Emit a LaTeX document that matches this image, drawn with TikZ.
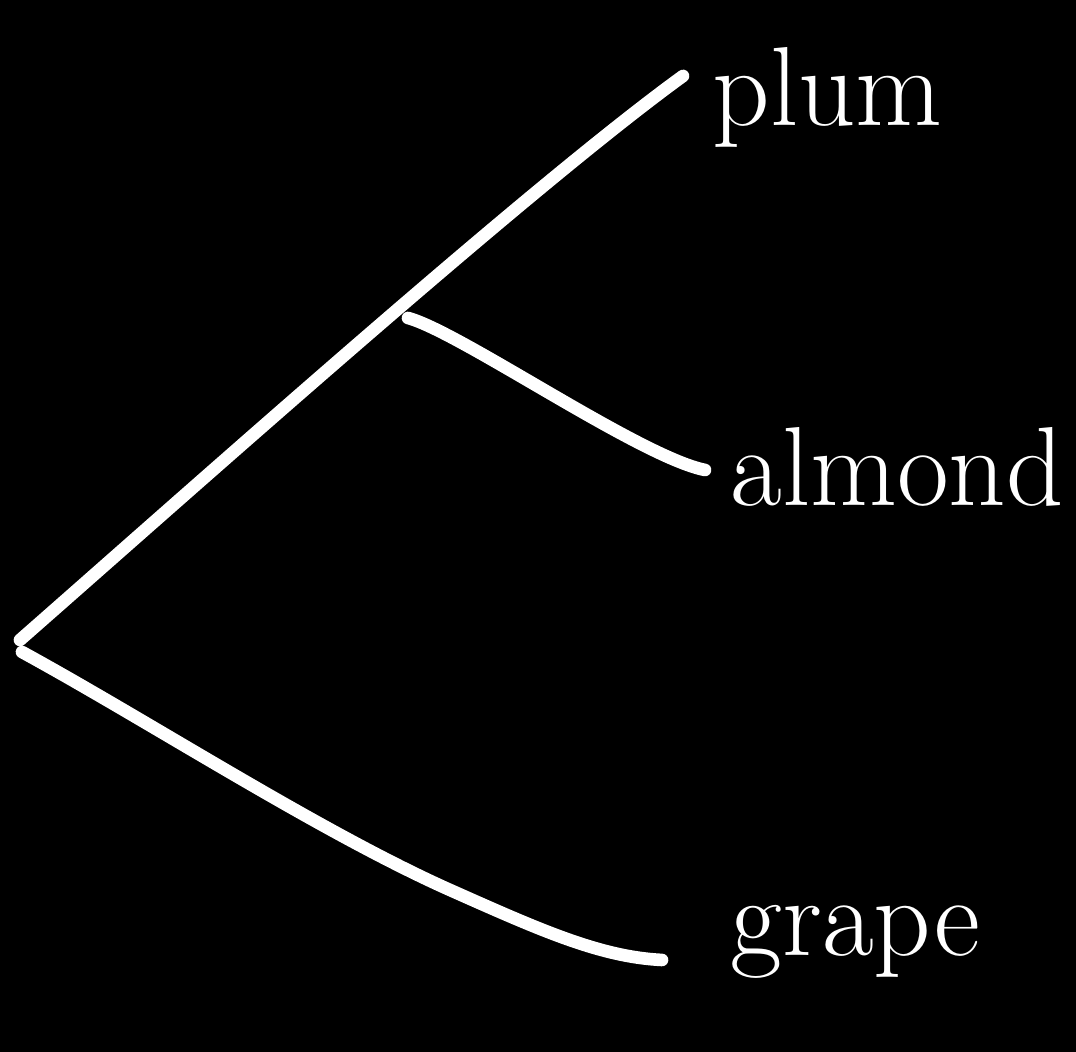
\documentclass[tikz,border=0pt]{standalone}
\usepackage{tikz}
\usetikzlibrary{positioning, calc}
\tikzset{
  branch/.style={draw=white, line width=3.6pt, line cap=round, line join=round},
  leaf/.style={text=white, font=\fontsize{32}{36}\selectfont, inner sep=0pt, anchor=west}
}
\begin{document}
\begin{tikzpicture}

% background and size
\fill[black] (0,0) rectangle (10.76,10.52);
\useasboundingbox (0,0) rectangle (10.76,10.52);

% branch points
\coordinate (root) at (0.20,4.12);
\coordinate (groot) at (0.22,4.00);
\coordinate (split) at (4.08,7.34);
\coordinate (plumend) at (6.83,9.76);
\coordinate (almondend) at (7.05,5.82);
\coordinate (grapebend) at (4.50,1.62);
\coordinate (grapeend) at (6.62,0.92);

% Leaves
\node[leaf] (plum) at (7.12,9.55) {plum};
\node[leaf] (almond) at (7.30,5.85) {almond};
\node[leaf] (grape) at (7.30,1.10) {grape};

% Branches
\draw[branch] (root) .. controls (2.0,5.7) and (5.3,8.65) .. (plumend);
\draw[branch] (split) .. controls (4.6,7.2) and (6.4,5.95) .. (almondend);
\draw[branch] (groot) .. controls (1.5,3.3) and (3.2,2.2) .. (grapebend)
  .. controls (5.4,1.22) and (6.0,0.95) .. (grapeend);

\end{tikzpicture}
\end{document}
